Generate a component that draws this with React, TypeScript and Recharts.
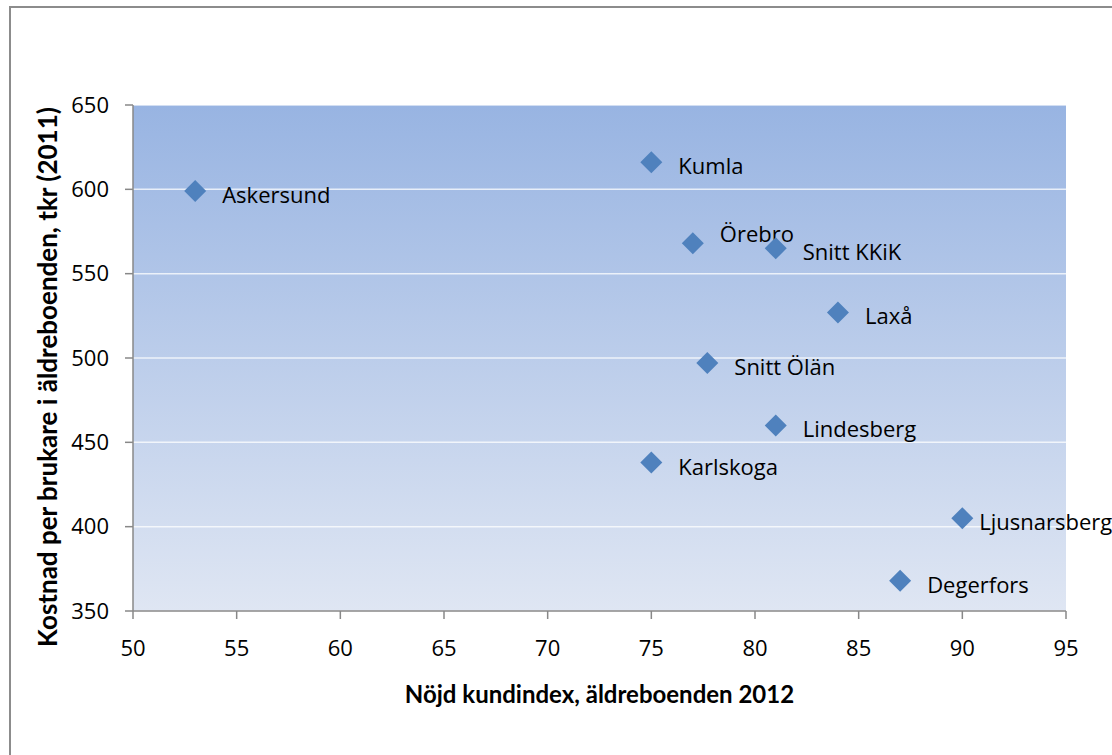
import React from 'react';
import { ScatterChart, Scatter, XAxis, YAxis, CartesianGrid } from 'recharts';

const kommuner = ['Askersund', 'Kumla', 'Örebro', 'Snitt KKiK', 'Laxå', 'Snitt Ölän', 'Lindesberg', 'Karlskoga', 'Ljusnarsberg', 'Degerfors'];
const nkiValues = [53, 75, 77, 81, 84, 77.7, 81, 75, 90, 87];
const kostnadValues = [599, 616, 568, 565, 527, 497, 460, 438, 405, 368];
const labelAbove = ['Örebro'];
const labelTight = ['Ljusnarsberg'];

const xTicks = [50, 55, 60, 65, 70, 75, 80, 85, 90, 95];
const yTicks = [350, 400, 450, 500, 550, 600, 650];

const data = kommuner.map((name, i) => ({ name, x: nkiValues[i], y: kostnadValues[i] }));

const FONT = '"Open Sans", sans-serif';
const TITLE_FONT = 'Lato, "Open Sans", sans-serif';

const DiamondWithLabel = (props: any) => {
  const { cx, cy, payload } = props;
  const r = 11;
  const above = labelAbove.includes(payload.name);
  const tight = labelTight.includes(payload.name);
  return (
    <g>
      <polygon
        points={`${cx},${cy - r} ${cx + r},${cy} ${cx},${cy + r} ${cx - r},${cy}`}
        fill="#4f81bd"
      />
      <text
        x={cx + (tight ? 17 : 27)}
        y={above ? cy - 10 : cy + 3}
        dominantBaseline="central"
        fontFamily={FONT}
        fontSize={22}
        fill="#000"
      >
        {payload.name}
      </text>
    </g>
  );
};

const YTitle = () => (
  <text
    transform="translate(47,377) rotate(-90)"
    textAnchor="middle"
    dominantBaseline="central"
    fontFamily={TITLE_FONT}
    fontSize={26}
    fontWeight={700}
    fill="#000"
  >
    Kostnad per brukare i äldreboenden, tkr (2011)
  </text>
);

const App: React.FC = () => {
  return (
    <div style={{ position: 'absolute', left: 0, top: 0, width: 1112, height: 755, overflow: 'hidden', background: '#fff' }}>
      <div
        style={{
          position: 'absolute',
          left: 9,
          top: 6,
          width: 1200,
          height: 900,
          border: '2px solid #8c8c8c',
          boxSizing: 'border-box',
        }}
      />
      <div style={{ position: 'absolute', left: 0, top: 0 }}>
        <ScatterChart
          width={1112}
          height={755}
          margin={{ top: 105, right: 46, bottom: 94, left: 0 }}
          style={{ overflow: 'visible' }}
        >
          <defs>
            <linearGradient id="plotBg" x1="0" y1="0" x2="0" y2="1">
              <stop offset="0%" stopColor="#98b4e2" />
              <stop offset="100%" stopColor="#dfe6f3" />
            </linearGradient>
          </defs>
          <CartesianGrid
            vertical={false}
            fill="url(#plotBg)"
            stroke="#ffffff"
            strokeOpacity={0.75}
            strokeWidth={1.5}
          />
          <XAxis
            type="number"
            dataKey="x"
            domain={[50, 95]}
            ticks={xTicks}
            height={50}
            stroke="#888888"
            strokeWidth={1.5}
            tickSize={8}
            tickMargin={21}
            tick={{ fill: '#000', fontSize: 22, fontFamily: FONT }}
            label={{
              value: 'Nöjd kundindex, äldreboenden 2012',
              position: 'insideBottom',
              offset: -42,
              fill: '#000',
              fontSize: 24,
              fontWeight: 700,
              fontFamily: TITLE_FONT,
            }}
          />
          <YAxis
            type="number"
            dataKey="y"
            domain={[350, 650]}
            ticks={yTicks}
            width={133}
            stroke="#888888"
            strokeWidth={1.5}
            tickSize={8}
            tickMargin={16}
            tick={{ fill: '#000', fontSize: 22, fontFamily: FONT }}
            label={{ content: YTitle }}
          />
          <Scatter data={data} shape={DiamondWithLabel} isAnimationActive={false} />
        </ScatterChart>
      </div>
    </div>
  );
};

export default App;
